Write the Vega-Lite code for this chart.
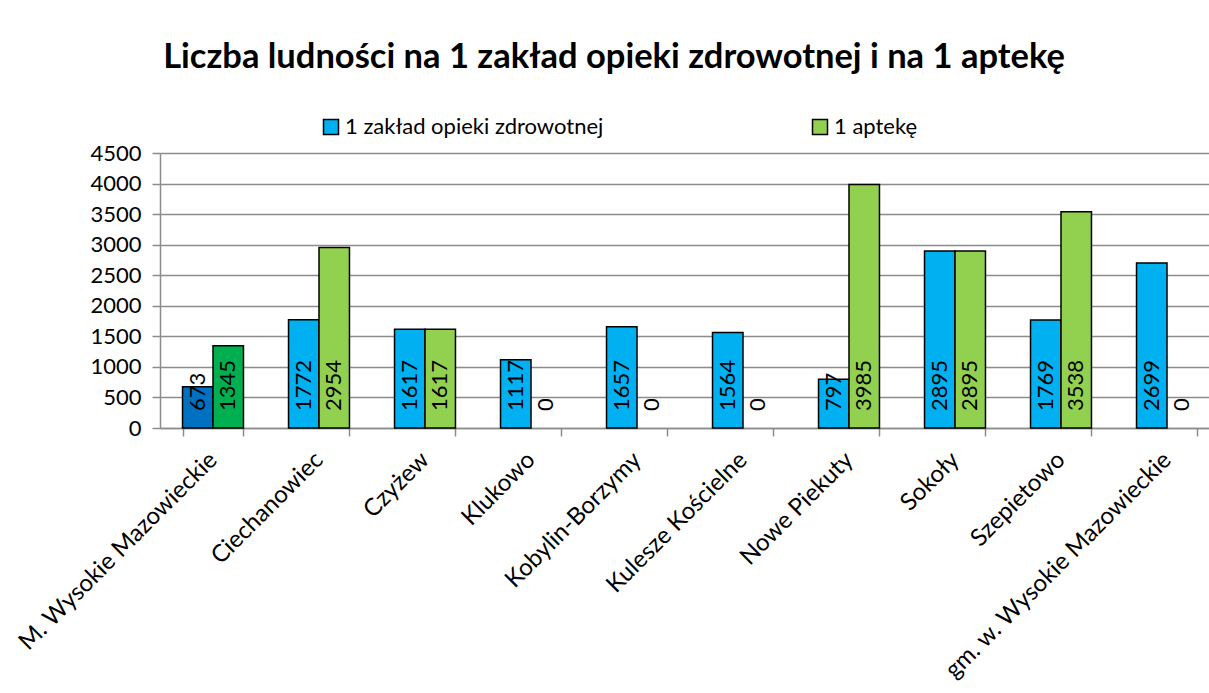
{
  "$schema": "https://vega.github.io/schema/vega-lite/v6.json",
  "autosize": {"type": "none"},
  "width": 1060,
  "height": 275,
  "padding": {"left": 160, "top": 153, "right": 0, "bottom": 265},
  "background": "white",
  "title": {
    "text": "Liczba ludności na 1 zakład opieki zdrowotnej i na 1 aptekę",
    "font": "Lato",
    "fontSize": 34.5,
    "fontWeight": "bold",
    "color": "black",
    "anchor": "middle",
    "dx": -76,
    "offset": 41
  },
  "data": {
    "values": [
      {"gmina": "M. Wysokie Mazowieckie", "seria": "1 zakład opieki zdrowotnej", "wartosc": 673},
      {"gmina": "M. Wysokie Mazowieckie", "seria": "1 aptekę", "wartosc": 1345},
      {"gmina": "Ciechanowiec", "seria": "1 zakład opieki zdrowotnej", "wartosc": 1772},
      {"gmina": "Ciechanowiec", "seria": "1 aptekę", "wartosc": 2954},
      {"gmina": "Czyżew", "seria": "1 zakład opieki zdrowotnej", "wartosc": 1617},
      {"gmina": "Czyżew", "seria": "1 aptekę", "wartosc": 1617},
      {"gmina": "Klukowo", "seria": "1 zakład opieki zdrowotnej", "wartosc": 1117},
      {"gmina": "Klukowo", "seria": "1 aptekę", "wartosc": 0},
      {"gmina": "Kobylin-Borzymy", "seria": "1 zakład opieki zdrowotnej", "wartosc": 1657},
      {"gmina": "Kobylin-Borzymy", "seria": "1 aptekę", "wartosc": 0},
      {"gmina": "Kulesze Kościelne", "seria": "1 zakład opieki zdrowotnej", "wartosc": 1564},
      {"gmina": "Kulesze Kościelne", "seria": "1 aptekę", "wartosc": 0},
      {"gmina": "Nowe Piekuty", "seria": "1 zakład opieki zdrowotnej", "wartosc": 797},
      {"gmina": "Nowe Piekuty", "seria": "1 aptekę", "wartosc": 3985},
      {"gmina": "Sokoły", "seria": "1 zakład opieki zdrowotnej", "wartosc": 2895},
      {"gmina": "Sokoły", "seria": "1 aptekę", "wartosc": 2895},
      {"gmina": "Szepietowo", "seria": "1 zakład opieki zdrowotnej", "wartosc": 1769},
      {"gmina": "Szepietowo", "seria": "1 aptekę", "wartosc": 3538},
      {"gmina": "gm. w. Wysokie Mazowieckie", "seria": "1 zakład opieki zdrowotnej", "wartosc": 2699},
      {"gmina": "gm. w. Wysokie Mazowieckie", "seria": "1 aptekę", "wartosc": 0}
    ]
  },
  "encoding": {
    "x": {
      "field": "gmina",
      "type": "nominal",
      "sort": null,
      "scale": {"paddingInner": 0.425, "paddingOuter": 0.2125},
      "axis": {
        "title": null,
        "tickBand": "extent",
        "grid": false,
        "domainColor": "#8c8c8c",
        "domainWidth": 1.5,
        "tickColor": "#8c8c8c",
        "tickWidth": 1.5,
        "tickSize": 8,
        "labelAngle": -45,
        "labelAlign": "right",
        "labelBaseline": "middle",
        "labelPadding": 20,
        "labelFont": "Lato",
        "labelFontSize": 24,
        "labelColor": "black",
        "labelLimit": 400
      }
    },
    "xOffset": {
      "field": "seria",
      "type": "nominal",
      "sort": ["1 zakład opieki zdrowotnej", "1 aptekę"],
      "scale": {"paddingInner": 0, "paddingOuter": 0}
    },
    "y": {
      "field": "wartosc",
      "type": "quantitative",
      "scale": {"domain": [0, 4500], "nice": false},
      "axis": {
        "title": null,
        "format": "d",
        "values": [0, 500, 1000, 1500, 2000, 2500, 3000, 3500, 4000, 4500],
        "grid": true,
        "gridColor": "#8c8c8c",
        "gridWidth": 1.5,
        "domainColor": "#8c8c8c",
        "domainWidth": 1.5,
        "tickColor": "#8c8c8c",
        "tickWidth": 1.5,
        "tickSize": 8,
        "labelPadding": 11,
        "labelFont": "Lato",
        "labelFontSize": 22,
        "labelColor": "black"
      }
    }
  },
  "layer": [
    {
      "transform": [{"filter": "datum.wartosc > 0"}],
      "mark": {"type": "bar", "stroke": "black", "strokeWidth": 1.5},
      "encoding": {
        "color": {
          "condition": [
            {"test": "datum.gmina === 'M. Wysokie Mazowieckie' && datum.seria === '1 zakład opieki zdrowotnej'", "value": "#0070C0"},
            {"test": "datum.gmina === 'M. Wysokie Mazowieckie' && datum.seria === '1 aptekę'", "value": "#00B050"}
          ],
          "field": "seria",
          "type": "nominal",
          "sort": ["1 zakład opieki zdrowotnej", "1 aptekę"],
          "scale": {"domain": ["1 zakład opieki zdrowotnej", "1 aptekę"], "range": ["#00B0F0", "#92D050"]},
          "legend": {
            "title": null,
            "orient": "none",
            "direction": "horizontal",
            "legendX": 160,
            "legendY": -37,
            "padding": 0,
            "symbolType": "square",
            "symbolSize": 225,
            "symbolStrokeColor": "black",
            "symbolStrokeWidth": 1.5,
            "symbolOpacity": 1,
            "labelFont": "Lato",
            "labelFontSize": 22,
            "labelColor": "black",
            "labelOffset": 3,
            "labelLimit": 400,
            "columnPadding": 205
          }
        }
      }
    },
    {
      "mark": {"type": "text", "angle": 270, "align": "left", "baseline": "middle", "dx": 17, "font": "Lato", "fontSize": 22, "color": "black"},
      "encoding": {
        "y": {"datum": 0},
        "text": {"field": "wartosc", "type": "quantitative"}
      }
    }
  ]
}
